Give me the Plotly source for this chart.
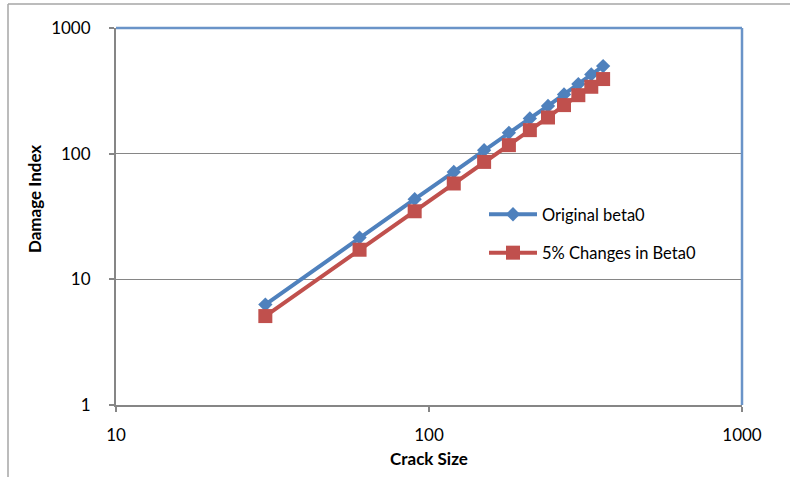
import plotly.graph_objects as go

# Crack size and damage index readings
crack_size = [30, 60, 90, 120, 150, 180, 210, 240, 270, 300, 330, 360]
damage_original = [6.3, 21.5, 43.4, 71.6, 106.6, 146.5, 190.8, 240, 296, 358, 427, 498]
damage_changed = [5.1, 17.2, 34.8, 57.9, 86, 116.9, 153.9, 194, 243.5, 292, 340.7, 392.4]

series_names = ["Original beta0", "5% Changes in Beta0"]
x_ticks = [10, 100, 1000]
y_ticks = [1, 10, 100, 1000]

BLUE = "#4F81BD"
RED = "#C0504D"
AXIS = "#868686"
FONT = "Lato"

W, H = 790, 477
L, R, T, B = 116, 742, 28, 405


def px_x(p):
    return (p - L) / (R - L)


def px_y(p):
    return (B - p) / (B - T)


fig = go.Figure()
fig.add_trace(go.Scatter(
    x=crack_size, y=damage_original, name=series_names[0], mode="lines+markers",
    line=dict(color=BLUE, width=4),
    marker=dict(symbol="diamond", size=11, color=BLUE),
    legendgroup="a",
))
fig.add_trace(go.Scatter(
    x=crack_size, y=damage_changed, name=series_names[1], mode="lines+markers",
    line=dict(color=RED, width=4),
    marker=dict(symbol="square", size=14, color=RED),
    legendgroup="b",
))

fig.update_layout(
    width=W, height=H,
    margin=dict(l=L, r=W - R, t=T, b=H - B, pad=0, autoexpand=False),
    paper_bgcolor="white", plot_bgcolor="white",
    font=dict(family=FONT, size=17, color="#000000"),
    showlegend=True,
    legend=dict(
        x=px_x(484), y=px_y(197), xanchor="left", yanchor="top",
        bgcolor="rgba(0,0,0,0)", borderwidth=0,
        traceorder="grouped", tracegroupgap=14, itemwidth=48,
        font=dict(family=FONT, size=16.5),
    ),
    xaxis=dict(
        type="log", range=[1, 3], tickvals=x_ticks, ticktext=[str(v) for v in x_ticks],
        showgrid=False, zeroline=False, automargin=False,
        showline=True, linecolor=AXIS, linewidth=2,
        ticks="outside", ticklen=5, tickcolor=AXIS, tickwidth=1.5,
        ticklabelstandoff=9, tickfont=dict(size=17),
        title=dict(text="<b>Crack Size</b>", font=dict(family=FONT, size=17), standoff=9),
    ),
    yaxis=dict(
        type="log", range=[0, 3], tickvals=y_ticks, ticktext=[str(v) for v in y_ticks],
        showgrid=True, gridcolor=AXIS, gridwidth=1.3, zeroline=False, automargin=False,
        showline=True, linecolor=AXIS, linewidth=2,
        ticks="outside", ticklen=5, tickcolor=AXIS, tickwidth=1.5,
        ticklabelstandoff=15, tickfont=dict(size=17),
    ),
    annotations=[
        dict(text="<b>Damage Index</b>", xref="paper", yref="paper",
             x=px_x(34), y=px_y(199), xanchor="center", yanchor="middle",
             textangle=-90, showarrow=False, font=dict(family=FONT, size=17)),
    ],
    shapes=[
        # plot area border (top and right)
        dict(type="line", xref="paper", yref="paper", x0=0, x1=1, y0=1, y1=1,
             line=dict(color="#6A94C8", width=2.5)),
        dict(type="line", xref="paper", yref="paper", x0=1, x1=1, y0=0, y1=1,
             line=dict(color="#6A94C8", width=2.5)),
        # chart frame (top and left)
        dict(type="line", xref="paper", yref="paper",
             x0=px_x(8), x1=px_x(W + 5), y0=px_y(4), y1=px_y(4),
             line=dict(color="#A6A6A6", width=1.5)),
        dict(type="line", xref="paper", yref="paper",
             x0=px_x(8), x1=px_x(8), y0=px_y(4), y1=px_y(H + 5),
             line=dict(color="#A6A6A6", width=1.5)),
    ],
)

fig.write_html("out.html")
